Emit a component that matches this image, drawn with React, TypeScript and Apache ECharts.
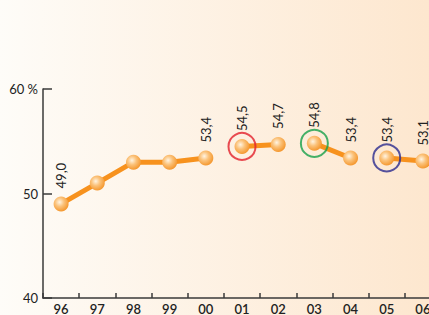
import React, { useEffect, useRef } from "react";
import * as echarts from "echarts";

const categories = ["96", "97", "98", "99", "00", "01", "02", "03", "04", "05", "06"];
const values = [49.0, 51.0, 53.0, 53.0, 53.4, 54.5, 54.7, 54.8, 53.4, 53.4, 53.1];
const showLabel = [true, false, false, false, true, true, true, true, true, true, true];
const segments = [[0, 4], [5, 6], [7, 8], [9, 10]];
const highlighted = [
  { cat: "01", value: 54.5, color: "#e2202c" },
  { cat: "03", value: 54.8, color: "#16a04a" },
  { cat: "05", value: 53.4, color: "#2a2a8e" },
];
const yTicks = [40, 50, 60];

export default function App() {
  const ref = useRef<HTMLDivElement>(null);
  useEffect(() => {
    if (!ref.current) return;
    const chart = echarts.init(ref.current, undefined, { renderer: "svg" });
    const font = "Lato, 'Open Sans', sans-serif";
    const markerColor = new echarts.graphic.RadialGradient(0.4, 0.38, 0.65, [
      { offset: 0, color: "#fff4e2" },
      { offset: 0.45, color: "#fbc27a" },
      { offset: 1, color: "#f4952a" },
    ]);
    const lineSeries = segments.map(([a, b]) => ({
      type: "line",
      data: values.map((v, i) =>
        i >= a && i <= b
          ? {
              value: v,
              label: {
                show: showLabel[i],
              },
            }
          : null
      ),
      connectNulls: false,
      symbol: "circle",
      symbolSize: 15,
      showAllSymbol: true,
      lineStyle: { color: "#f7921e", width: 5 },
      itemStyle: { color: markerColor, borderWidth: 0 },
      label: {
        position: "top",
        distance: 8,
        rotate: 90,
        align: "left",
        verticalAlign: "middle",
        fontFamily: font,
        fontSize: 13,
        color: "#222",
        formatter: (p: any) => p.value.toFixed(1).replace(".", ","),
      },
      z: 3,
    }));
    chart.setOption({
      animation: false,
      backgroundColor: new echarts.graphic.LinearGradient(0, 0, 1, 0, [
        { offset: 0, color: "#fefcf8" },
        { offset: 1, color: "#fde6cd" },
      ]),
      grid: { left: 43, top: 89, right: 4, bottom: 16 },
      xAxis: {
        type: "category",
        data: categories,
        boundaryGap: true,
        axisLine: { lineStyle: { color: "#3a3a3a", width: 1.5 } },
        axisTick: { show: true, inside: true, length: 5, alignWithLabel: false, lineStyle: { color: "#3a3a3a", width: 1.5 } },
        axisLabel: { color: "#222", fontFamily: font, fontSize: 13, fontWeight: 600, margin: 4 },
        splitLine: { show: false },
      },
      yAxis: {
        type: "value",
        min: 40,
        max: 60,
        interval: 10,
        axisLine: { show: true, lineStyle: { color: "#3a3a3a", width: 1.5 } },
        axisTick: { show: true, inside: true, length: 9, lineStyle: { color: "#3a3a3a", width: 1.5 } },
        axisLabel: {
          color: "#222",
          fontFamily: font,
          fontSize: 13,
          margin: 5,
          formatter: (v: number) => (v === yTicks[yTicks.length - 1] ? v + " %" : String(v)),
        },
        splitLine: { show: false },
      },
      series: [
        ...lineSeries,
        {
          type: "scatter",
          symbol: "circle",
          symbolSize: 27,
          data: highlighted.map((h) => ({
            value: [h.cat, h.value],
            itemStyle: { color: "rgba(0,0,0,0)", borderColor: h.color, borderWidth: 2 },
          })),
          z: 4,
        },
      ],
    });
    return () => chart.dispose();
  }, []);
  return (
    <div style={{ position: "fixed", left: 0, top: 0, width: 429, height: 315, overflow: "hidden" }}>
      <div ref={ref} style={{ width: 445, height: 315 }} />
    </div>
  );
}
